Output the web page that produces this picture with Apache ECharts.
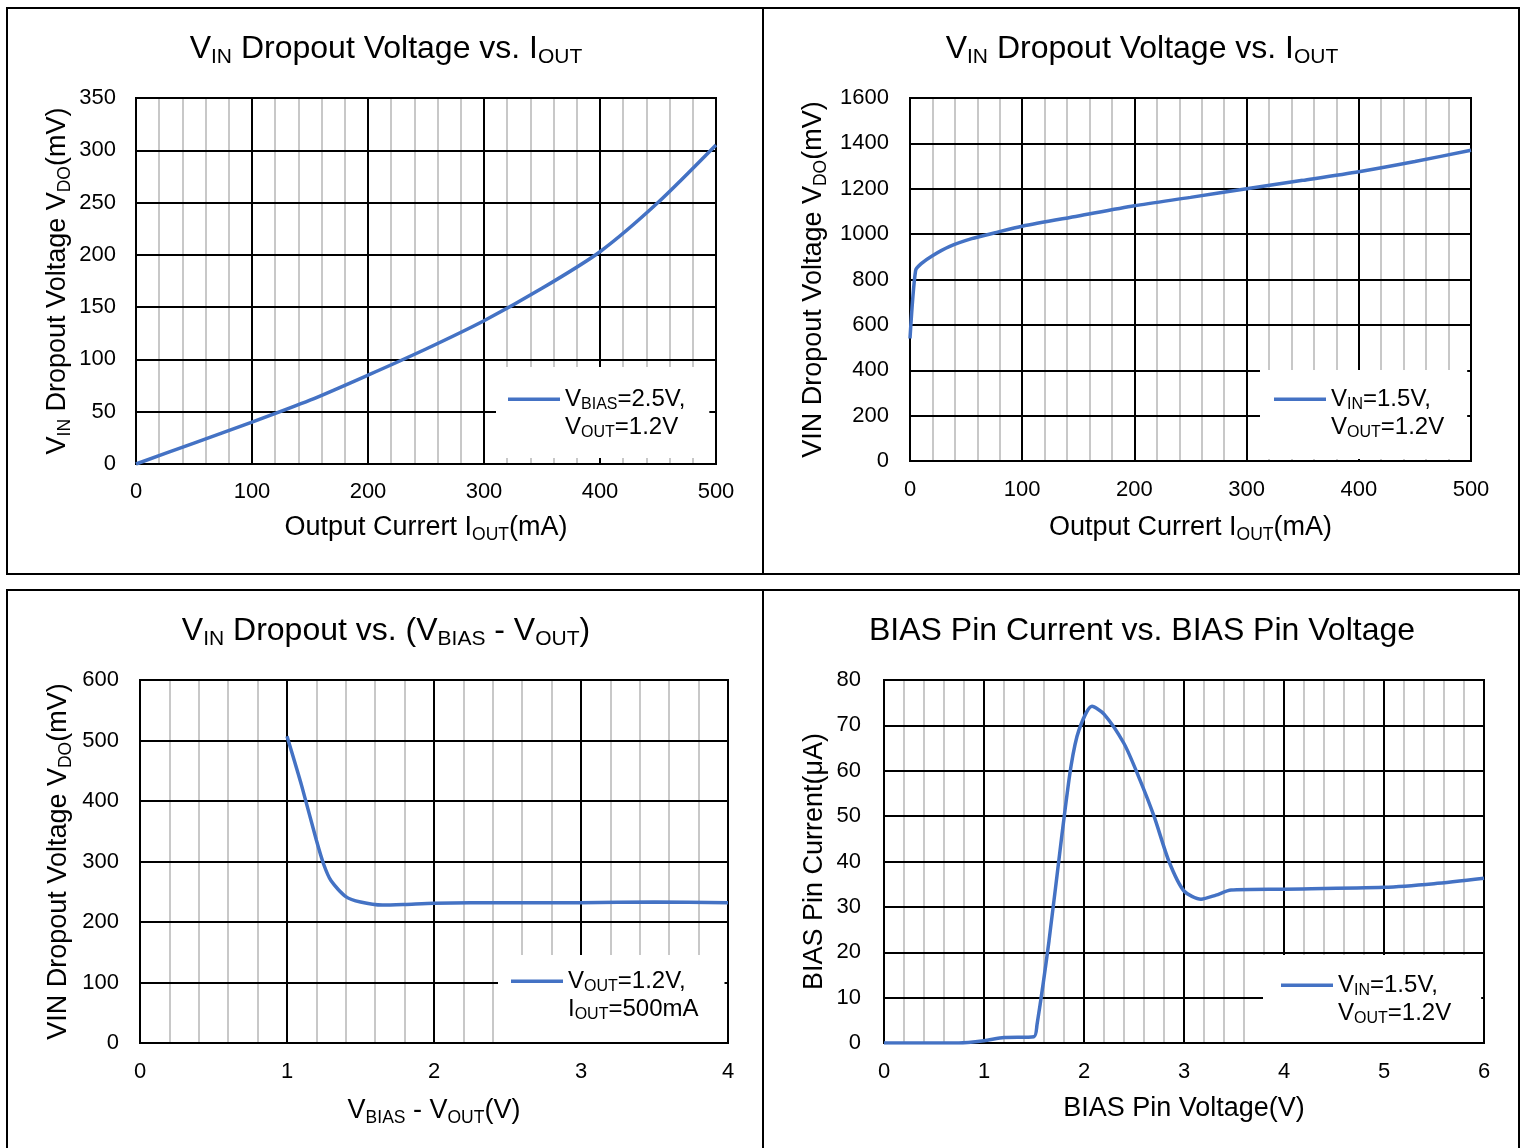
<!DOCTYPE html>
<html>
<head>
<meta charset="utf-8">
<script src="https://cdn.jsdelivr.net/npm/echarts/dist/echarts.min.js"></script>
<style>
  html, body { margin: 0; padding: 0; background: #fff; }
  #chart { width: 1525px; height: 1148px; }
</style>
</head>
<body>
<div id="chart"></div>
<script>
// --- data ---
const iout1 = [0, 50, 100, 150, 200, 250, 300, 350, 400, 450, 500];
const vdo1 = [0, 20, 40, 61, 85, 110, 137, 168, 203, 250, 305];

const iout2 = [0, 5, 10, 20, 35, 55, 75, 100, 150, 200, 250, 300, 350, 400, 450, 500];
const vdo2 = [540, 840, 870, 905, 945, 980, 1005, 1035, 1080, 1125, 1162, 1200, 1237, 1275, 1320, 1370];

const vDiff3 = [1.0, 1.1, 1.2, 1.25, 1.3, 1.4, 1.5, 1.65, 1.8, 2.0, 2.5, 3.0, 3.5, 4.0];
const vdo3 = [507, 425, 335, 295, 268, 242, 233, 228, 229, 231, 232, 232, 233, 232];

const vBias4 = [0, 0.75, 1.0, 1.2, 1.5, 1.53, 1.65, 1.78, 1.87, 1.95, 2.08, 2.2, 2.4, 2.55, 2.7, 2.85, 3.0, 3.17, 3.32, 3.47, 4.0, 5.0, 5.5, 6.0];
const iBias4 = [0, 0, 0.5, 1.2, 1.4, 4, 22.5, 46, 61, 69, 74.2, 72.5, 66, 58.5, 50, 40, 33.5, 31.7, 32.6, 33.7, 33.9, 34.3, 35.1, 36.3];

// axis ticks
const xTicks1 = [0, 100, 200, 300, 400, 500];
const yTicks1 = [0, 50, 100, 150, 200, 250, 300, 350];
const xTicks2 = [0, 100, 200, 300, 400, 500];
const yTicks2 = [0, 200, 400, 600, 800, 1000, 1200, 1400, 1600];
const xTicks3 = [0, 1, 2, 3, 4];
const yTicks3 = [0, 100, 200, 300, 400, 500, 600];
const xTicks4 = [0, 1, 2, 3, 4, 5, 6];
const yTicks4 = [0, 10, 20, 30, 40, 50, 60, 70, 80];

const seriesNames = ['VBIAS=2.5V, VOUT=1.2V', 'VIN=1.5V, VOUT=1.2V (a)', 'VOUT=1.2V, IOUT=500mA', 'VIN=1.5V, VOUT=1.2V (b)'];
const legendTexts = {
    'VBIAS=2.5V, VOUT=1.2V': '{m|V}{s|BIAS}{m|=2.5V,}\n{m|V}{s|OUT}{m|=1.2V}',
    'VIN=1.5V, VOUT=1.2V (a)': '{m|V}{s|IN}{m|=1.5V,}\n{m|V}{s|OUT}{m|=1.2V}',
    'VOUT=1.2V, IOUT=500mA': '{m|V}{s|OUT}{m|=1.2V,}\n{m|I}{s|OUT}{m|=500mA}',
    'VIN=1.5V, VOUT=1.2V (b)': '{m|V}{s|IN}{m|=1.5V,}\n{m|V}{s|OUT}{m|=1.2V}',
};

const FONT = '"Liberation Sans", Arial, sans-serif';
const BLUE = '#4472C4';

// main text + subscript styles
function richFor(size, lh, sub, subLh) {
    return {
        m: { fontSize: size, lineHeight: lh, fontFamily: FONT, fontWeight: 'normal', color: '#000' },
        s: { fontSize: sub, lineHeight: subLh, verticalAlign: 'bottom', fontFamily: FONT, fontWeight: 'normal', color: '#000' },
    };
}
const titleRich = richFor(32, 38, 21, 23);
const nameRich = richFor(27, 32, 17.5, 19.5);
const legendRich = richFor(24, 28, 16, 17);

// line sits on the first text row of the 2-line legend label
const LEGEND_ICON = 'path://M0,12.5H52V16H0Z M0,0H0.01V0.01H0Z M0,56H0.01V55.99H0Z';

function pairs(xs, ys) {
    return xs.map((x, i) => [x, ys[i]]);
}

function makeGrid(left, top, width, height) {
    return { left, top, width, height, show: true, borderColor: '#000', borderWidth: 2, z: 1.5 };
}

function makeX(idx, ticks, name, nameGap, margin) {
    return {
        type: 'value',
        gridIndex: idx,
        min: ticks[0],
        max: ticks[ticks.length - 1],
        interval: ticks[1] - ticks[0],
        name: name,
        nameLocation: 'middle',
        nameGap: nameGap,
        nameTextStyle: { rich: nameRich },
        axisLine: { show: false },
        axisTick: { show: false },
        axisLabel: { fontSize: 22, lineHeight: 22, color: '#000', fontFamily: FONT, margin: margin },
        splitLine: { show: true, lineStyle: { color: '#000', width: 2 } },
        minorTick: { show: false, splitNumber: 5 },
        minorSplitLine: { show: true, lineStyle: { color: '#c8c8c8', width: 2 } },
    };
}

function makeY(idx, ticks, name, nameGap, margin) {
    return {
        type: 'value',
        gridIndex: idx,
        z: 1,
        min: ticks[0],
        max: ticks[ticks.length - 1],
        interval: ticks[1] - ticks[0],
        name: name,
        nameLocation: 'middle',
        nameRotate: 90,
        nameGap: nameGap,
        nameTextStyle: { rich: nameRich },
        axisLine: { show: false },
        axisTick: { show: false },
        axisLabel: { fontSize: 22, color: '#000', fontFamily: FONT, margin: margin, formatter: (v) => String(v) },
        splitLine: { show: true, lineStyle: { color: '#000', width: 2 } },
    };
}

function makeSeries(idx, name, data) {
    return {
        type: 'line',
        name: name,
        xAxisIndex: idx,
        yAxisIndex: idx,
        data: data,
        showSymbol: false,
        smooth: 0.25,
        lineStyle: { color: BLUE, width: 3.5 },
        itemStyle: { color: BLUE },
        z: 2,
    };
}

function makeLegend(name, left, top, padding) {
    return {
        data: [name],
        left: left,
        top: top,
        padding: padding,
        backgroundColor: '#fff',
        itemWidth: 52,
        itemHeight: 56,
        icon: LEGEND_ICON,
        itemStyle: { color: BLUE, borderWidth: 0 },
        selectedMode: false,
        textStyle: { rich: legendRich },
        formatter: (n) => legendTexts[n],
    };
}

function makeTitle(text, cx, top) {
    return {
        text: text,
        left: cx,
        top: top,
        textAlign: 'center',
        padding: 0,
        textStyle: { fontWeight: 'normal', rich: titleRich },
    };
}

const chart = echarts.init(document.getElementById('chart'));

const option = {
    animation: false,
    backgroundColor: '#fff',
    textStyle: { fontFamily: FONT },
    title: [
        makeTitle('{m|V}{s|IN}{m| Dropout Voltage vs. I}{s|OUT}', 386, 30),
        makeTitle('{m|V}{s|IN}{m| Dropout Voltage vs. I}{s|OUT}', 1142, 30),
        makeTitle('{m|V}{s|IN}{m| Dropout vs. (V}{s|BIAS}{m| - V}{s|OUT}{m|)}', 386, 612),
        makeTitle('{m|BIAS Pin Current vs. BIAS Pin Voltage}', 1142, 612),
    ],
    grid: [
        makeGrid(136, 98, 580, 366),
        makeGrid(910, 98, 561, 363),
        makeGrid(140, 680, 588, 363),
        makeGrid(884, 680, 600, 363),
    ],
    xAxis: [
        makeX(0, xTicks1, '{m|Output Currert I}{s|OUT}{m|(mA)}', 48, 17),
        makeX(1, xTicks2, '{m|Output Currert I}{s|OUT}{m|(mA)}', 51, 18),
        makeX(2, xTicks3, '{m|V}{s|BIAS}{m| - V}{s|OUT}{m|(V)}', 52, 18),
        makeX(3, xTicks4, '{m|BIAS Pin Voltage(V)}', 50, 18),
    ],
    yAxis: [
        makeY(0, yTicks1, '{m|V}{s|IN}{m| Dropout Voltage V}{s|DO}{m|(mV)}', 62, 20),
        makeY(1, yTicks2, '{m|VIN Dropout Voltage V}{s|DO}{m|(mV)}', 80, 21),
        makeY(2, yTicks3, '{m|VIN Dropout Voltage V}{s|DO}{m|(mV)}', 65, 21),
        makeY(3, yTicks4, '{m|BIAS Pin Current(μA)}', 53, 23),
    ],
    legend: [
        makeLegend(seriesNames[0], 496, 367, [18, 24, 17, 12]),
        makeLegend(seriesNames[1], 1260, 370, [15, 23, 18, 14]),
        makeLegend(seriesNames[2], 498, 955, [12, 26, 19, 13]),
        makeLegend(seriesNames[3], 1263, 955, [16, 30, 15, 18]),
    ],
    series: [
        makeSeries(0, seriesNames[0], pairs(iout1, vdo1)),
        makeSeries(1, seriesNames[1], pairs(iout2, vdo2)),
        makeSeries(2, seriesNames[2], pairs(vDiff3, vdo3)),
        makeSeries(3, seriesNames[3], pairs(vBias4, iBias4)),
    ],
    // panel frames
    graphic: [
        { type: 'rect', shape: { x: 7, y: 8, width: 1512, height: 566 }, style: { fill: 'none', stroke: '#000', lineWidth: 2 }, silent: true },
        { type: 'line', shape: { x1: 763, y1: 8, x2: 763, y2: 574 }, style: { stroke: '#000', lineWidth: 2 }, silent: true },
        { type: 'rect', shape: { x: 7, y: 590, width: 1512, height: 580 }, style: { fill: 'none', stroke: '#000', lineWidth: 2 }, silent: true },
        { type: 'line', shape: { x1: 763, y1: 590, x2: 763, y2: 1148 }, style: { stroke: '#000', lineWidth: 2 }, silent: true },
    ],
};

chart.setOption(option);
</script>
</body>
</html>
